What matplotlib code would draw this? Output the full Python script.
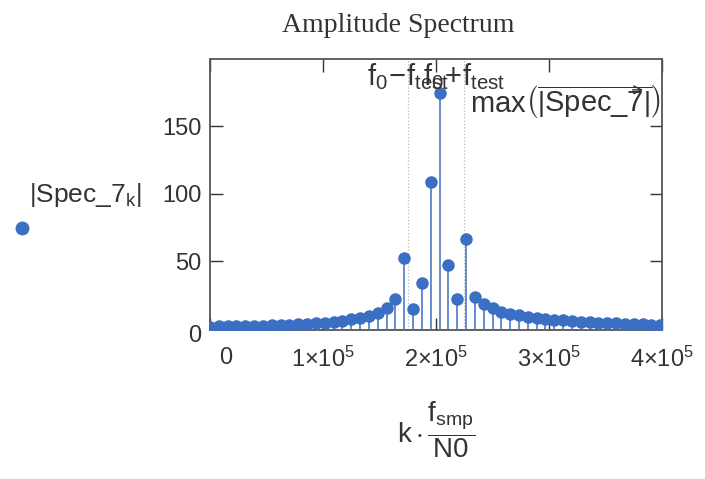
import numpy as np
import matplotlib
matplotlib.use('Agg')
import matplotlib.pyplot as plt
from matplotlib.lines import Line2D
from matplotlib.transforms import ScaledTranslation

plt.rcParams['font.family'] = ['Liberation Sans', 'DejaVu Sans']
plt.rcParams['mathtext.fontset'] = 'custom'
plt.rcParams['mathtext.rm'] = 'Liberation Sans'
plt.rcParams['mathtext.it'] = 'Liberation Sans'
plt.rcParams['mathtext.bf'] = 'Liberation Sans:bold'

# sampling setup (Mathcad sheet)
f_smp = 1.0e6
N0 = 128
f0 = 2.0e5
f_test = 25.0e3

# |Spec_7_k|, k = 0..51
spec_mag = [1.5, 1.6, 1.7, 1.8, 1.9, 2.0, 2.2, 2.4, 2.6, 2.9, 3.2, 3.6,
            4.0, 4.5, 5.2, 6.0, 7.0, 8.2, 9.5, 11.5, 15.0, 22.0,
            52.5, 14.7, 33.5, 109.0, 175.0, 47.5, 22.0, 66.5, 23.5,
            18.5, 15.0, 12.7, 11.0, 9.8, 8.8, 8.0, 7.3, 6.7, 6.1, 5.6,
            5.2, 4.8, 4.5, 4.2, 3.9, 3.6, 3.4, 3.2, 3.0, 2.8]

x_ticks = [0, 1e5, 2e5, 3e5, 4e5]
x_tick_labels = ['0', r'$1{\times}10^{5}$', r'$2{\times}10^{5}$',
                 r'$3{\times}10^{5}$', r'$4{\times}10^{5}$']
y_ticks = [0, 50, 100, 150]

k = np.arange(len(spec_mag))
freq = k * f_smp / N0
blue = '#3b6fc4'
txt = '#333333'

fig = plt.figure(figsize=(7.05, 4.79), dpi=100)
ax = fig.add_axes([210 / 705, 1 - 330 / 479, 452 / 705, 271 / 479])

# stems + markers
ax.vlines(freq, 0, spec_mag, color=blue, lw=1.1, zorder=2)
ax.plot(freq, spec_mag, 'o', color=blue, ms=8, zorder=3)

# x markers
for xm in (f0 - f_test, f0 + f_test):
    ax.axvline(xm, color='#b8b8b8', lw=0.9, ls=':', zorder=1)
ax.text(f0 - f_test, 198.5, r'$\mathrm{f_0\!-\!f_{test}}$', ha='center', va='top',
        fontsize=21, color=txt, zorder=4)
ax.text(f0 + f_test, 198.5, r'$\mathrm{f_0\!+\!f_{test}}$', ha='center', va='top',
        fontsize=21, color=txt, zorder=4)
max_lab = ax.text(3.99e5, max(spec_mag) - 7,
                  r'$\mathrm{max}\left(\overline{\left|\mathrm{Spec\_7}\right|}\right)$',
                  ha='right', va='center', fontsize=21, color=txt, zorder=4)

ax.set_xlim(0, 4e5)
ax.set_ylim(-1, 200)
ax.set_xticks(x_ticks)
ax.set_xticklabels(x_tick_labels)
ax.set_yticks(y_ticks)
ax.tick_params(direction='in', length=9, width=1, top=True, right=True,
               labelsize=17, colors=txt, pad=6)
ax.tick_params(axis='x', pad=12)
for s in ax.spines.values():
    s.set_color('#555555')
    s.set_linewidth(1.3)

# Mathcad nudges the 0 labels off the corner
lab0 = ax.xaxis.get_major_ticks()[0].label1
lab0.set_transform(lab0.get_transform() + ScaledTranslation(0.16, 0, fig.dpi_scale_trans))
laby0 = ax.yaxis.get_major_ticks()[0].label1
laby0.set_transform(laby0.get_transform() + ScaledTranslation(0, -0.05, fig.dpi_scale_trans))

ax.set_xlabel(r'$\mathrm{k}\cdot\dfrac{\mathrm{f_{smp}}}{\mathrm{N0}}$', fontsize=20,
              color=txt, labelpad=20)

fig.text(85 / 705, 1 - 195 / 479, r'$\left|\mathrm{Spec\_7_k}\right|$', ha='center',
         va='center', fontsize=19, color=txt)
fig.add_artist(Line2D([22 / 705], [1 - 228 / 479], marker='o', color=blue, ms=9,
                      transform=fig.transFigure))

fig.text(398 / 705, 1 - 26 / 479, 'Amplitude Spectrum', ha='center', va='center',
         fontsize=20, family='Liberation Serif', color=txt)

# arrow head for the vectorize bar over |Spec_7|
fig.canvas.draw()
bb = max_lab.get_window_extent()
x_b = bb.x0 + 0.90 * bb.width
y_a = bb.y1 - 0.17 * bb.height
ax.annotate('', xy=(x_b + 4, y_a), xytext=(x_b - 12, y_a), xycoords='figure pixels',
            textcoords='figure pixels',
            arrowprops=dict(arrowstyle='->', color=txt, lw=1.0, mutation_scale=14))

fig.savefig('out.png', dpi=100)
